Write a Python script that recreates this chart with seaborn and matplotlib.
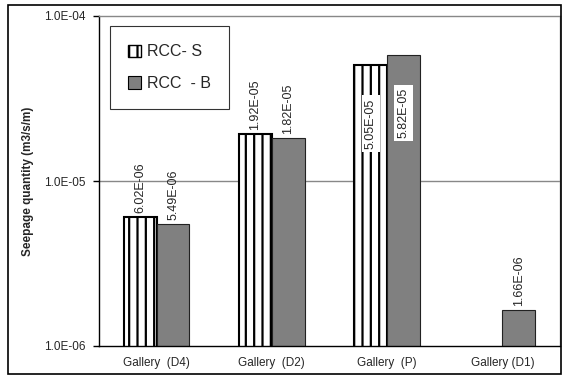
import matplotlib
matplotlib.use("Agg")
import matplotlib.pyplot as plt
import seaborn as sns
import pandas as pd
import numpy as np
from matplotlib.patches import Patch, Rectangle
from matplotlib.ticker import FixedLocator, FuncFormatter, NullLocator

categories = ["Gallery  (D4)", "Gallery  (D2)", "Gallery  (P)", "Gallery (D1)"]
series_names = ["RCC- S", "RCC  - B"]
rcc_s = [6.02e-06, 1.92e-05, 5.05e-05, np.nan]
rcc_b = [5.49e-06, 1.82e-05, 5.82e-05, 1.66e-06]
label_s = ["6.02E-06", "1.92E-05", "5.05E-05", ""]
label_b = ["5.49E-06", "1.82E-05", "5.82E-05", "1.66E-06"]
inside_label = [False, False, True, False]
y_ticks = [1e-6, 1e-5, 1e-4]

df = pd.DataFrame({
    "Gallery": categories * 2,
    "Series": [series_names[0]] * 4 + [series_names[1]] * 4,
    "Value": rcc_s + rcc_b,
})

sns.set_style("white")
plt.rcParams["font.family"] = ["Liberation Sans", "DejaVu Sans"]
plt.rcParams["hatch.linewidth"] = 1.6

fig = plt.figure(figsize=(5.63, 3.76), dpi=100)
ax = fig.add_axes([99 / 563, 1 - 346 / 376, (560 - 99) / 563, (346 - 16) / 376])
ax.set_yscale("log")

sns.barplot(data=df, x="Gallery", y="Value", hue="Series", order=categories,
            hue_order=series_names, palette=["white", "#808080"], width=0.57,
            edgecolor="black", linewidth=0.8, saturation=1, legend=False, ax=ax,
            errorbar=None)

ax.set_ylim(1e-6, 1e-4)
ax.set_xlim(-0.5, 3.5)

# Style the RCC-S bars with vertical hatching
for p in ax.containers[0]:
    p.set_hatch("||")
    p.set_facecolor("white")
    p.set_edgecolor("black")
    p.set_linewidth(1.5)
for p in ax.containers[1]:
    p.set_edgecolor("#222222")
    p.set_linewidth(0.8)

# Data labels
for cont, labels in zip(ax.containers, [label_s, label_b]):
    for p, lab, inside in zip(cont, labels, inside_label):
        if not lab:
            continue
        x = p.get_x() + p.get_width() / 2
        y = p.get_y() + p.get_height()
        if inside:
            ax.annotate(lab, (x, y), xytext=(0, -24), textcoords="offset points",
                        rotation=90, ha="center", va="top", fontsize=9,
                        bbox=dict(boxstyle="square,pad=0.25", fc="white", ec="none"))
        else:
            ax.annotate(lab, (x, y), xytext=(0, 3), textcoords="offset points",
                        rotation=90, ha="center", va="bottom", fontsize=9)

# Axes formatting
ax.yaxis.set_major_locator(FixedLocator(y_ticks))
ax.yaxis.set_minor_locator(NullLocator())
ax.yaxis.set_major_formatter(FuncFormatter(lambda v, pos: f"{v:.1E}"))
ax.set_xticks(range(len(categories)))
ax.set_xticklabels(categories)
ax.xaxis.set_minor_locator(FixedLocator([0.5, 1.5, 2.5]))
ax.tick_params(axis="x", which="major", length=0, pad=8, labelsize=8.5)
ax.tick_params(axis="x", which="minor", length=4, width=1, direction="out", color="black")
ax.tick_params(axis="y", which="major", length=4, width=1, direction="out",
               color="black", labelsize=8.5, pad=6, left=True)
ax.set_xlabel("")
ax.set_ylabel("Seepage quantity (m3/s/m)", fontsize=8.5, fontweight="bold", labelpad=7)

ax.grid(False)
ax.axhline(1e-5, color="#888888", linewidth=1, zorder=0)
for s in ["left", "bottom"]:
    ax.spines[s].set_color("black")
    ax.spines[s].set_linewidth(1)
for s in ["top", "right"]:
    ax.spines[s].set_color("#888888")
    ax.spines[s].set_linewidth(1)

handles = [
    Patch(facecolor="white", edgecolor="black", hatch="||", linewidth=1, label=series_names[0]),
    Patch(facecolor="#808080", edgecolor="black", linewidth=0.8, label=series_names[1]),
]
leg = ax.legend(handles=handles, loc="upper left", bbox_to_anchor=(0.024, 0.97),
                borderaxespad=0, fontsize=11.5, frameon=True, fancybox=False,
                handlelength=0.8, handleheight=0.8, handletextpad=0.35,
                labelspacing=1.05, borderpad=1.15)
leg.get_frame().set_edgecolor("black")
leg.get_frame().set_linewidth(0.8)

# Outer chart border
fig.add_artist(Rectangle((8 / 563, 2 / 376), (561 - 8) / 563, (371 - 2) / 376,
                         transform=fig.transFigure, fill=False, edgecolor="black",
                         linewidth=1.2))

fig.savefig("out.png", dpi=100)
